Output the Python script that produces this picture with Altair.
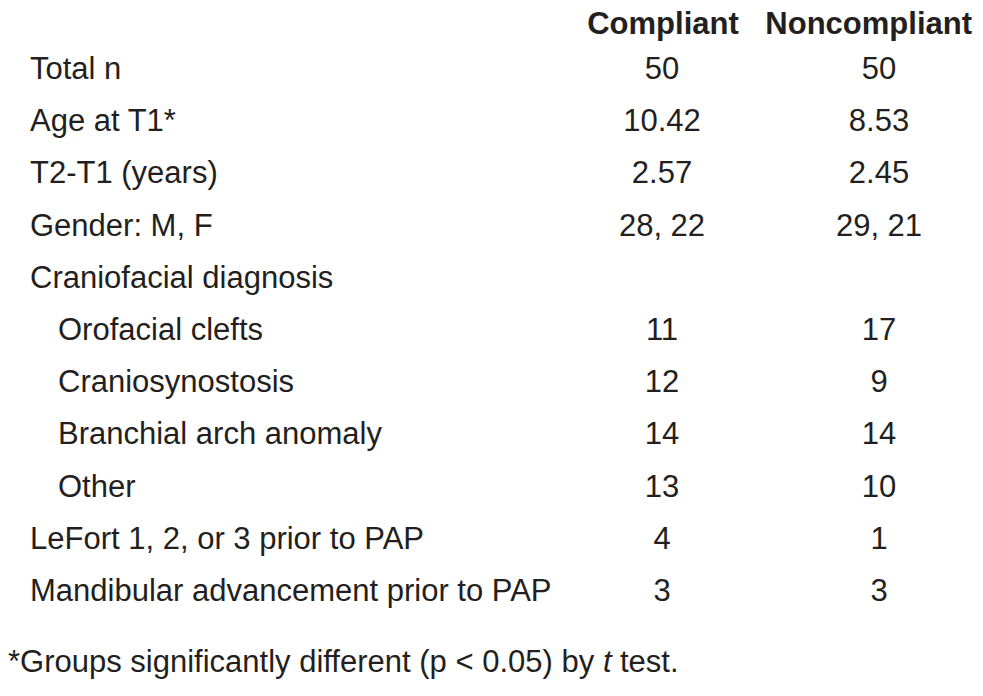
import altair as alt
import pandas as pd

# ---- data ----
labels = ["Total n", "Age at T1*", "T2-T1 (years)", "Gender: M, F", "Craniofacial diagnosis",
          "Orofacial clefts", "Craniosynostosis", "Branchial arch anomaly", "Other",
          "LeFort 1, 2, or 3 prior to PAP", "Mandibular advancement prior to PAP"]
indented = [False, False, False, False, False, True, True, True, True, False, False]
compliant = ["50", "10.42", "2.57", "28, 22", "", "11", "12", "14", "13", "4", "3"]
noncompliant = ["50", "8.53", "2.45", "29, 21", "", "17", "9", "14", "10", "1", "3"]
headers = ["Compliant", "Noncompliant"]
footnote_parts = ["*Groups significantly different (p < 0.05) by ", "t", "test."]

# ---- layout / style ----
FONT = "Liberation Sans, Arial, Helvetica, sans-serif"
FS = 31
COLOR = "#231f20"
HEADER_ROW = -0.862
FOOT_ROW = 11.3602

rows = pd.DataFrame({
    "row": list(range(len(labels))),
    "label": labels,
    "indent": indented,
    "c": compliant,
    "n": noncompliant,
})

yscale = alt.Scale(domain=[-1.3602, 11.6667], reverse=True)
yenc = alt.Y("row:Q", scale=yscale, axis=None)
xscale = alt.Scale(domain=[0, 967])

txt = dict(baseline="alphabetic", font=FONT, fontSize=FS, color=COLOR)

base = alt.Chart(rows)

lab_top = base.transform_filter("!datum.indent").mark_text(align="left", **txt).encode(
    x=alt.value(22), y=yenc, text="label:N")
lab_ind = base.transform_filter("datum.indent").mark_text(align="left", **txt).encode(
    x=alt.value(50), y=yenc, text="label:N")
col_c = base.mark_text(align="center", **txt).encode(x=alt.value(654), y=yenc, text="c:N")
col_n = base.mark_text(align="center", **txt).encode(x=alt.value(871), y=yenc, text="n:N")

hdr = pd.DataFrame({"row": [HEADER_ROW, HEADER_ROW], "text": headers,
                    "pos": [655, 964], "al": ["c", "r"]})
head_c = alt.Chart(hdr).transform_filter("datum.al == 'c'").mark_text(
    align="center", fontWeight="bold", **txt
).encode(x=alt.X("pos:Q", scale=xscale, axis=None), y=yenc, text="text:N")
head_r = alt.Chart(hdr).transform_filter("datum.al == 'r'").mark_text(
    align="right", fontWeight="bold", **txt
).encode(x=alt.X("pos:Q", scale=xscale, axis=None), y=yenc, text="text:N")

fn = pd.DataFrame({"row": [FOOT_ROW] * 3, "text": footnote_parts, "pos": [0, 595, 612],
                   "style": ["normal", "italic", "normal"]})
foot1 = alt.Chart(fn).transform_filter("datum.style == 'normal'").mark_text(
    align="left", **txt
).encode(x=alt.X("pos:Q", scale=xscale, axis=None), y=yenc, text="text:N")
foot2 = alt.Chart(fn).transform_filter("datum.style == 'italic'").mark_text(
    align="left", fontStyle="italic", **txt
).encode(x=alt.X("pos:Q", scale=xscale, axis=None), y=yenc, text="text:N")

chart = alt.layer(lab_top, lab_ind, col_c, col_n, head_c, head_r, foot1, foot2).properties(
    width=967, height=680, padding=0, autosize=alt.AutoSizeParams(type="none")
).configure(background="white").configure_view(stroke=None)

chart.save("out.html", embed_options={"renderer": "svg", "actions": False})
